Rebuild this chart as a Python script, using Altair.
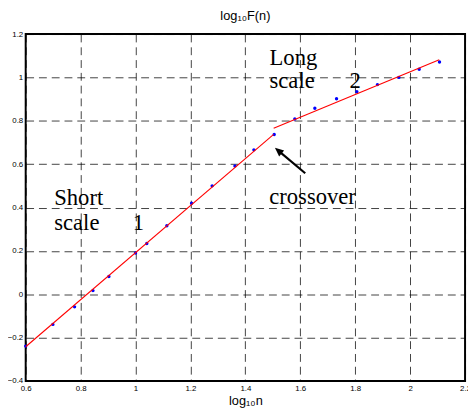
import altair as alt
import pandas as pd

# data points (log10 n, log10 F(n))
log_n = [0.600, 0.699, 0.778, 0.845, 0.903, 1.000, 1.041, 1.114, 1.204, 1.279,
         1.362, 1.431, 1.505, 1.580, 1.653, 1.732, 1.806, 1.881, 1.959, 2.033, 2.107]
log_F = [-0.239, -0.139, -0.058, 0.017, 0.082, 0.190, 0.234, 0.316, 0.420, 0.500,
         0.592, 0.666, 0.737, 0.808, 0.858, 0.902, 0.934, 0.967, 1.000, 1.038, 1.071]

# fitted lines: segment id, x, y
fit_seg = ["1", "1", "2", "2"]
fit_x = [0.600, 1.503, 1.503, 2.106]
fit_y = [-0.242, 0.737, 0.766, 1.081]

# annotations
ann_text = ["Short", "scale", "1", "Long", "scale", "2", "crossover"]
ann_x = [0.704, 0.704, 0.99, 1.488, 1.488, 1.779, 1.487]
ann_y = [0.412, 0.297, 0.297, 1.056, 0.952, 0.952, 0.417]

# arrow (tail -> head)
arrow_x = [1.618]
arrow_y = [0.558]
arrow_x2 = [1.522]
arrow_y2 = [0.660]

x_ticks = [0.6, 0.8, 1.0, 1.2, 1.4, 1.6, 1.8, 2.0, 2.2]
y_ticks = [-0.4, -0.2, 0, 0.2, 0.4, 0.6, 0.8, 1.0, 1.2]

pts = pd.DataFrame({"x": log_n, "y": log_F})
fit = pd.DataFrame({"seg": fit_seg, "x": fit_x, "y": fit_y})
ann = pd.DataFrame({"t": ann_text, "x": ann_x, "y": ann_y})
arr = pd.DataFrame({"x": arrow_x, "y": arrow_y, "x2": arrow_x2, "y2": arrow_y2})

xs = alt.Scale(domain=[0.6, 2.2], nice=False, zero=False)
ys = alt.Scale(domain=[-0.4, 1.2], nice=False, zero=False)

axis_common = dict(
    grid=True, gridColor="#000000", gridDash=[8, 5], gridOpacity=0.75, gridWidth=1,
    domain=False, ticks=False,
    labelFont="Liberation Sans", labelFontSize=8, labelColor="#000000",
    titleFont="Liberation Sans", titleFontSize=13, titleColor="#000000",
    titleFontWeight="normal",
)

x_axis = alt.Axis(values=x_ticks, title="log₁₀n", labelPadding=4, titlePadding=2,
                  labelFlush=False,
                  labelExpr="datum.value == 1 ? '1' : datum.value == 2 ? '2' : format(datum.value, '.1f')",
                  **axis_common)
y_axis = alt.Axis(values=y_ticks, title="", labelPadding=3, labelFlush=False,
                  labelExpr="datum.value == 0 ? '0' : datum.value == 1 ? '1' : format(datum.value, '.1f')",
                  **axis_common)


def X(f):
    return alt.X(f, type="quantitative", scale=xs, axis=x_axis, title="log₁₀n")


def Y(f):
    return alt.Y(f, type="quantitative", scale=ys, axis=y_axis, title="")


points = alt.Chart(pts).mark_circle(color="#0000ff", size=12, opacity=1).encode(
    x=X("x"), y=Y("y"))

lines = alt.Chart(fit).mark_line(color="#ff0000", strokeWidth=1.1).encode(
    x=X("x"), y=Y("y"), detail="seg:N")

texts = alt.Chart(ann).mark_text(font="Liberation Serif", fontSize=23, align="left",
                                 baseline="alphabetic", color="#000000").encode(
    x=X("x"), y=Y("y"), text="t:N")

arrow_line = alt.Chart(arr).mark_rule(color="#000000", strokeWidth=2.2).encode(
    x=X("x"), y=Y("y"), x2="x2:Q", y2="y2:Q")

arrow_head = alt.Chart(arr).mark_point(
    shape="M0,-1L-0.75,0.7L0.75,0.7Z", filled=True, color="#000000", opacity=1,
    size=110, angle=310).encode(x=X("x2"), y=Y("y2"))

chart = alt.layer(points, lines, texts, arrow_line, arrow_head).properties(
    width=447, height=353,
    autosize=alt.AutoSizeParams(type="none"),
    padding={"left": 18, "top": 23, "right": 3, "bottom": 27},
    background="white",
    title=alt.TitleParams("log₁₀F(n)", font="Liberation Sans", fontSize=13,
                          fontWeight="normal", color="#000000", offset=7),
).configure_view(stroke="#000000", strokeWidth=2)

chart.save("out.html", embed_options={"renderer": "svg", "actions": False})
